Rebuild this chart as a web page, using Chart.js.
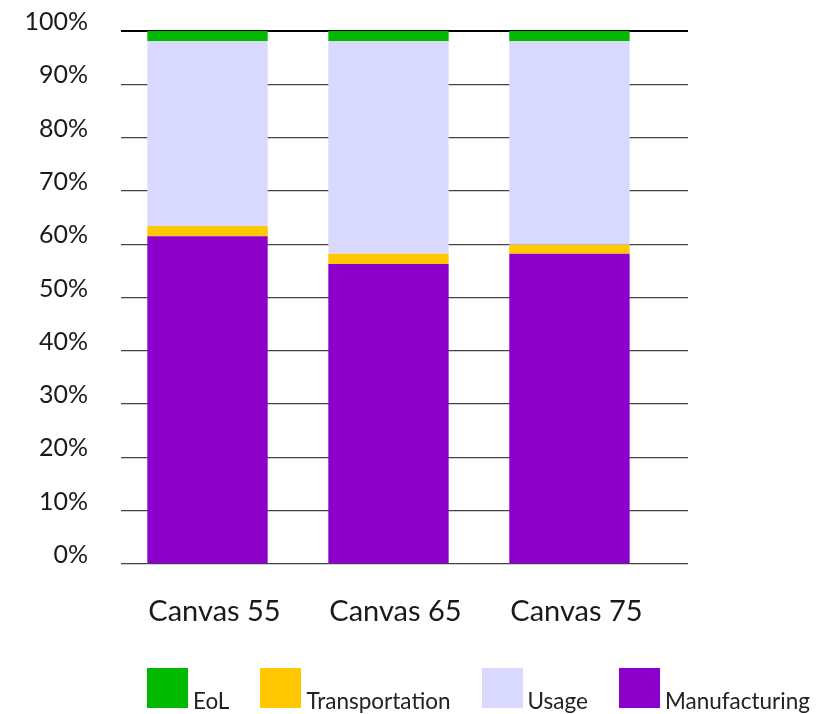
<!DOCTYPE html>
<html>
<head>
<meta charset="utf-8">
<script src="https://cdn.jsdelivr.net/npm/chart.js@4.4.1/dist/chart.umd.min.js"></script>
<style>
  body { margin: 0; background: #fff; }
  #wrap { position: relative; width: 827px; height: 714px; }
  #chart { position: absolute; left: 0; top: 0; }
  #legend {
    position: absolute; left: 147px; top: 668px;
    display: flex; align-items: flex-end;
    font-family: Lato, sans-serif; font-size: 22.5px; color: #222;
  }
  .item { display: flex; align-items: flex-end; margin-right: 31px; }
  .box { width: 41px; height: 40px; margin-right: 5px; }
  .item span { line-height: 1; position: relative; top: 4px; }
</style>
</head>
<body>
<div id="wrap">
  <canvas id="chart" width="827" height="714"></canvas>
  <div id="legend"></div>
</div>
<script>
// Categories and shares (% of total footprint), bottom segment first
const categories = ['Canvas 55', 'Canvas 65', 'Canvas 75'];
const manufacturing = [61.5, 56.3, 58.2];
const transportation = [1.9, 1.9, 1.7];
const usage = [34.7, 39.9, 38.2];
const eol = [1.9, 1.9, 1.9];
const yTicks = [0, 10, 20, 30, 40, 50, 60, 70, 80, 90, 100];
const legendOrder = ['EoL', 'Transportation', 'Usage', 'Manufacturing'];

const series = [
    { label: 'Manufacturing', data: manufacturing, color: '#8c00c9' },
    { label: 'Transportation', data: transportation, color: '#ffc800' },
    { label: 'Usage', data: usage, color: '#d9d9ff' },
    { label: 'EoL', data: eol, color: '#00b900' }
];

const datasets = series.map(s => ({
    label: s.label,
    data: s.data.map((v, i) => ({ x: i, y: v })),
    backgroundColor: s.color,
    borderWidth: 0,
    categoryPercentage: 1,
    barPercentage: 0.665
}));

// drop the label overhang padding chart.js adds, the layout padding handles it
function noOverhang(scale) {
    scale.paddingLeft = 0;
    scale.paddingRight = 0;
    scale.paddingTop = 0;
    scale.paddingBottom = 0;
}

new Chart(document.getElementById('chart'), {
    type: 'bar',
    data: { datasets },
    options: {
        responsive: false,
        animation: false,
        layout: { padding: { left: 25, right: 139, top: 31, bottom: 90 } },
        plugins: { legend: { display: false }, tooltip: { enabled: false } },
        scales: {
            x: {
                type: 'linear',
                stacked: true,
                offset: false,
                min: -0.478,
                max: 2.655,
                grid: { display: false, offset: false },
                border: { display: false },
                afterBuildTicks: scale => { scale.ticks = categories.map((c, i) => ({ value: i })); },
                afterFit: scale => { scale.height = 60; noOverhang(scale); },
                ticks: {
                    autoSkip: false,
                    maxRotation: 0,
                    padding: 22,
                    labelOffset: 7,
                    color: '#1a1a1a',
                    font: { family: 'Lato', size: 29 },
                    callback: v => categories[v]
                }
            },
            y: {
                stacked: true,
                min: 0,
                max: 100,
                border: { display: false },
                afterBuildTicks: scale => { scale.ticks = yTicks.map(v => ({ value: v })); },
                afterFit: scale => { scale.width = 96; noOverhang(scale); },
                grid: {
                    drawTicks: false,
                    color: ctx => ctx.tick && ctx.tick.value === 100 ? '#000' : '#444',
                    lineWidth: ctx => ctx.tick && ctx.tick.value === 100 ? 2 : 1.3
                },
                ticks: {
                    padding: 33,
                    labelOffset: -9,
                    color: '#1a1a1a',
                    font: { family: 'Lato', size: 25 },
                    callback: v => v + '%'
                }
            }
        }
    }
});

// legend, top segment first
const legend = document.getElementById('legend');
legendOrder.forEach(name => {
    const s = series.find(d => d.label === name);
    const item = document.createElement('div');
    item.className = 'item';
    item.innerHTML = `<div class="box" style="background:${s.color}"></div><span>${s.label}</span>`;
    legend.appendChild(item);
});
</script>
</body>
</html>
